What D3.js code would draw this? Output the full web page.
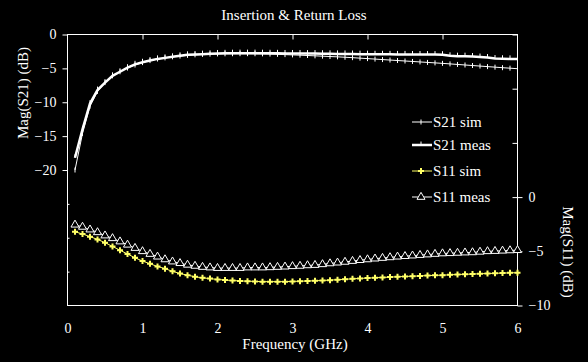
<!DOCTYPE html>
<html>
<head>
<meta charset="utf-8">
<script src="https://cdn.jsdelivr.net/npm/d3@7"></script>
<style>
	html, body { margin: 0; padding: 0; background: #000; }
	text { font-family: "Liberation Serif", "Times New Roman", serif; fill: #fff; }
</style>
</head>
<body>
<div id="chart"></div>
<script>
// frequency grid (GHz)
var freq = [0.1, 0.2, 0.3, 0.4, 0.5, 0.6, 0.7, 0.8, 0.9, 1.0,
	1.1, 1.2, 1.3, 1.4, 1.5, 1.6, 1.7, 1.8, 1.9, 2.0,
	2.1, 2.2, 2.3, 2.4, 2.5, 2.6, 2.7, 2.8, 2.9, 3.0,
	3.1, 3.2, 3.3, 3.4, 3.5, 3.6, 3.7, 3.8, 3.9, 4.0,
	4.1, 4.2, 4.3, 4.4, 4.5, 4.6, 4.7, 4.8, 4.9, 5.0,
	5.1, 5.2, 5.3, 5.4, 5.5, 5.6, 5.7, 5.8, 5.9, 6.0];

// S21 (left axis, dB)
var s21Sim = [-20.0, -14.6, -10.6, -8.4, -7.1, -6.1, -5.5, -4.95, -4.5, -4.15,
	-3.85, -3.62, -3.45, -3.3, -3.18, -3.08, -3.0, -2.94, -2.9, -2.87,
	-2.85, -2.84, -2.83, -2.83, -2.84, -2.86, -2.89, -2.93, -2.97, -3.01,
	-3.05, -3.1, -3.15, -3.2, -3.25, -3.3, -3.36, -3.42, -3.49, -3.56,
	-3.63, -3.7, -3.77, -3.84, -3.91, -3.98, -4.05, -4.12, -4.19, -4.26,
	-4.34, -4.42, -4.5, -4.58, -4.66, -4.74, -4.82, -4.9, -4.97, -5.05];
var s21Meas = [-18.2, -14.0, -10.2, -8.2, -7.1, -6.1, -5.5, -4.9, -4.4, -4.1,
	-3.85, -3.6, -3.45, -3.3, -3.15, -3.0, -2.95, -2.9, -2.85, -2.8,
	-2.78, -2.76, -2.75, -2.75, -2.75, -2.76, -2.77, -2.78, -2.8, -2.8,
	-2.8, -2.82, -2.82, -2.84, -2.85, -2.86, -2.87, -2.88, -2.9, -2.9,
	-2.92, -2.92, -2.93, -2.94, -2.94, -2.95, -2.95, -2.96, -2.97, -2.98,
	-3.15, -3.2, -3.2, -3.25, -3.33, -3.4, -3.55, -3.58, -3.6, -3.62];

// S11 (right axis, dB)
var s11Sim = [-3.2, -3.4, -3.65, -3.9, -4.2, -4.55, -4.9, -5.25, -5.6, -5.9,
	-6.15, -6.4, -6.6, -6.85, -7.05, -7.2, -7.35, -7.45, -7.52, -7.6,
	-7.65, -7.7, -7.73, -7.76, -7.78, -7.8, -7.8, -7.8, -7.8, -7.78,
	-7.76, -7.74, -7.72, -7.69, -7.66, -7.62, -7.58, -7.54, -7.5, -7.47,
	-7.44, -7.41, -7.38, -7.35, -7.32, -7.3, -7.27, -7.24, -7.22, -7.2,
	-7.17, -7.14, -7.12, -7.1, -7.07, -7.05, -7.03, -7.01, -6.99, -6.97];
var s11Meas = [-2.55, -2.75, -3.0, -3.25, -3.55, -3.8, -4.1, -4.4, -4.7, -5.0,
	-5.25, -5.5, -5.75, -5.95, -6.1, -6.25, -6.35, -6.45, -6.5, -6.55,
	-6.55, -6.55, -6.55, -6.5, -6.5, -6.5, -6.48, -6.45, -6.42, -6.38,
	-6.35, -6.3, -6.27, -6.2, -6.12, -6.05, -5.98, -5.9, -5.82, -5.75,
	-5.68, -5.62, -5.56, -5.5, -5.45, -5.4, -5.35, -5.3, -5.25, -5.2,
	-5.18, -5.15, -5.12, -5.1, -5.05, -5.0, -4.98, -4.95, -4.92, -4.9];

// tick values
var xTicks = [0, 1, 2, 3, 4, 5, 6];
var leftTicks = [0, -5, -10, -15, -20];
var leftMinor = [-25, -30, -35];
var rightTicks = [0, -5, -10];
var rightUpper = [15, 10, 5];

var legendItems = ["S21 sim", "S21 meas", "S11 sim", "S11 meas"];

var width = 588, height = 362;
var yellow = "#ffff66";

var svg = d3.select("#chart")
	.append("svg")
	.attr("width", width)
	.attr("height", height)
	.style("background", "#000");

var x = d3.scaleLinear().domain([0, 6]).range([67.5, 517.5]);
var yL = d3.scaleLinear().domain([0, -40]).range([34.5, 305.5]);
var yR = d3.scaleLinear().domain([15, -10]).range([34.5, 305.5]);

function styleAxis(g) {
	g.selectAll("path.domain").remove();
	g.selectAll("line").attr("stroke", "#fff");
	g.selectAll("text")
		.attr("fill", "#fff")
		.style("font-family", "'Liberation Serif', serif")
		.style("font-size", "14px");
}

// frame
svg.append("rect")
	.attr("x", x(0))
	.attr("y", yL(0))
	.attr("width", x(6) - x(0))
	.attr("height", yL(-40) - yL(0))
	.attr("fill", "none")
	.attr("stroke", "#fff")
	.attr("stroke-width", 1);

// bottom axis (labels only)
svg.append("g")
	.attr("transform", "translate(0," + yL(-40) + ")")
	.call(d3.axisBottom(x).tickValues(xTicks).tickSize(0).tickPadding(18).tickFormat(d3.format("d")))
	.call(styleAxis);

// top ticks
svg.append("g")
	.attr("transform", "translate(0," + yL(0) + ")")
	.call(d3.axisBottom(x).tickValues([1, 2, 3, 4, 5]).tickSize(5).tickFormat(""))
	.call(styleAxis);

// left axis
svg.append("g")
	.attr("transform", "translate(" + x(0) + ",0)")
	.call(d3.axisLeft(yL).tickValues(leftTicks).tickSize(5).tickPadding(6).tickFormat(d3.format("d")))
	.call(styleAxis);
svg.append("g")
	.attr("transform", "translate(" + x(0) + ",0)")
	.call(d3.axisRight(yL).tickValues(leftMinor).tickSize(2).tickFormat(""))
	.call(styleAxis);

// right axis
svg.append("g")
	.attr("transform", "translate(" + x(6) + ",0)")
	.call(d3.axisRight(yR).tickValues(rightTicks).tickSize(5).tickPadding(6).tickFormat(d3.format("d")))
	.call(styleAxis);
svg.append("g")
	.attr("transform", "translate(" + x(6) + ",0)")
	.call(d3.axisLeft(yR).tickValues(rightUpper.concat([0])).tickSize(5).tickFormat(""))
	.call(styleAxis);

// titles
svg.append("text")
	.attr("x", 294).attr("y", 20)
	.attr("text-anchor", "middle")
	.style("font-size", "15px")
	.text("Insertion & Return Loss");
svg.append("text")
	.attr("x", 295).attr("y", 349)
	.attr("text-anchor", "middle")
	.style("font-size", "15px")
	.text("Frequency (GHz)");
svg.append("text")
	.attr("transform", "translate(28,93) rotate(-90)")
	.attr("text-anchor", "middle")
	.style("font-size", "15px")
	.text("Mag(S21) (dB)");
svg.append("text")
	.attr("transform", "translate(563,252) rotate(90)")
	.attr("text-anchor", "middle")
	.style("font-size", "15px")
	.text("Mag(S11) (dB)");

// series
function pts(vals) {
	return vals.map(function (v, i) { return [freq[i], v]; });
}
var lineL = d3.line().x(function (d) { return x(d[0]); }).y(function (d) { return yL(d[1]); });
var lineR = d3.line().x(function (d) { return x(d[0]); }).y(function (d) { return yR(d[1]); });

var plot = svg.append("g");

// S11 meas - triangles
plot.append("path")
	.attr("d", lineR(pts(s11Meas)))
	.attr("fill", "none").attr("stroke", "#fff").attr("stroke-width", 1);
plot.selectAll("path.tri")
	.data(pts(s11Meas))
	.enter()
	.append("path")
	.attr("class", "tri")
	.attr("d", d3.symbol().type(d3.symbolTriangle).size(28))
	.attr("transform", function (d) { return "translate(" + x(d[0]) + "," + yR(d[1]) + ")"; })
	.attr("fill", "#000").attr("stroke", "#fff").attr("stroke-width", 1);

// S11 sim - yellow
plot.append("path")
	.attr("d", lineR(pts(s11Sim)))
	.attr("fill", "none").attr("stroke", yellow).attr("stroke-width", 1);
plot.selectAll("path.dia")
	.data(pts(s11Sim))
	.enter()
	.append("path")
	.attr("class", "dia")
	.attr("d", d3.symbol().type(d3.symbolCross).size(20))
	.attr("transform", function (d) { return "translate(" + x(d[0]) + "," + yR(d[1]) + ")"; })
	.attr("fill", yellow);

// S21 sim
plot.append("path")
	.attr("d", lineL(pts(s21Sim)))
	.attr("fill", "none").attr("stroke", "#fff").attr("stroke-width", 1);
plot.selectAll("line.sim")
	.data(pts(s21Sim))
	.enter()
	.append("line")
	.attr("class", "sim")
	.attr("x1", function (d) { return x(d[0]); })
	.attr("x2", function (d) { return x(d[0]); })
	.attr("y1", function (d) { return yL(d[1]) - 2.5; })
	.attr("y2", function (d) { return yL(d[1]) + 2.5; })
	.attr("stroke", "#fff").attr("stroke-width", 1);

// S21 meas
plot.append("path")
	.attr("d", lineL(pts(s21Meas)))
	.attr("fill", "none").attr("stroke", "#fff").attr("stroke-width", 2.5);
plot.selectAll("line.meas")
	.data(pts(s21Meas))
	.enter()
	.append("line")
	.attr("class", "meas")
	.attr("x1", function (d) { return x(d[0]); })
	.attr("x2", function (d) { return x(d[0]); })
	.attr("y1", function (d) { return yL(d[1]) - 3.5; })
	.attr("y2", function (d) { return yL(d[1]); })
	.attr("stroke", "#fff").attr("stroke-width", 1);

// legend
var legend = svg.append("g").attr("transform", "translate(412,0)");
var rowY = [122, 145, 171, 197];
legendItems.forEach(function (name, i) {
	var g = legend.append("g").attr("transform", "translate(0," + rowY[i] + ")");
	var col = (i === 2) ? yellow : "#fff";
	g.append("line")
		.attr("x1", 0).attr("x2", 20).attr("y1", 0).attr("y2", 0)
		.attr("stroke", col).attr("stroke-width", i === 1 ? 2.5 : 1);
	if (i === 0) {
		g.append("line").attr("x1", 9).attr("x2", 9).attr("y1", -2.5).attr("y2", 2.5).attr("stroke", "#fff");
	} else if (i === 1) {
		g.append("line").attr("x1", 9).attr("x2", 9).attr("y1", -3.5).attr("y2", 0).attr("stroke", "#fff");
	} else if (i === 2) {
		g.append("path").attr("d", d3.symbol().type(d3.symbolCross).size(20))
			.attr("transform", "translate(9,0)").attr("fill", yellow);
	} else {
		g.append("path").attr("d", d3.symbol().type(d3.symbolTriangle).size(28))
			.attr("transform", "translate(9,0)")
			.attr("fill", "#000").attr("stroke", "#fff");
	}
	g.append("text")
		.attr("x", 21).attr("y", 5)
		.style("font-size", "15px")
		.text(name);
});
</script>
</body>
</html>
